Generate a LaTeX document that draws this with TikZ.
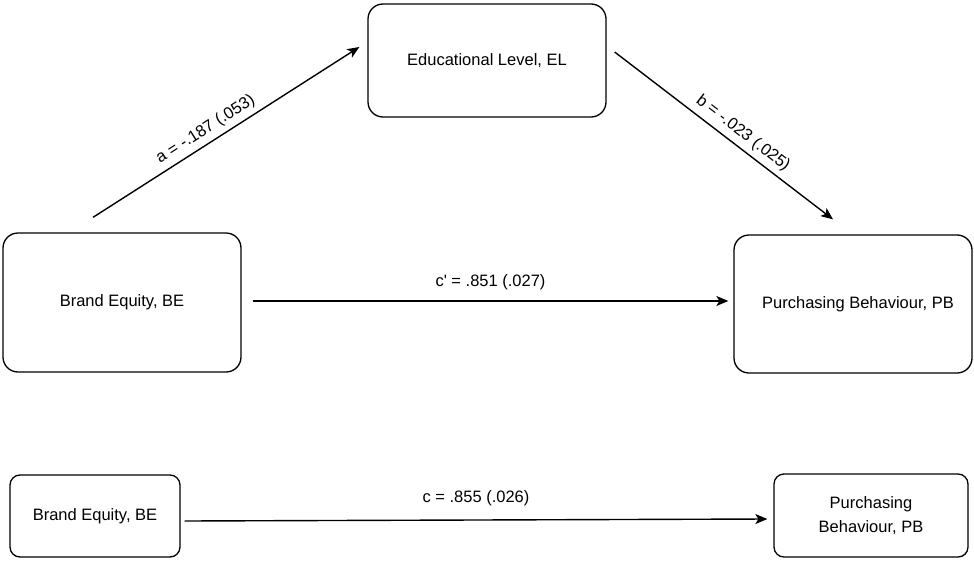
\documentclass[tikz,border=0pt]{standalone}
\usepackage{fontspec}
\setmainfont{Liberation Sans}
\usetikzlibrary{arrows.meta}

\begin{document}
\begin{tikzpicture}[x=1pt, y=-1pt,
  font=\fontsize{16.5}{24}\selectfont,
  box/.style={draw, line width=1.3pt, rounded corners=15pt, align=center},
  smallbox/.style={draw, line width=1.3pt, rounded corners=10pt, align=center},
  path/.style={line width=1.4pt, -{Stealth[length=12pt, width=10pt, inset=3pt]}},
  coef/.style={font=\fontsize{16.5}{20}\selectfont, inner sep=2pt}]
\useasboundingbox (0,0) rectangle (974,562);

% mediation model
\node[box, minimum width=238pt, minimum height=113pt] (el) at (487,60.5) {Educational Level, EL};
\node[box, minimum width=238pt, minimum height=139pt] (be) at (122,302.5) {Brand Equity, BE};
\node[box, minimum width=238pt, minimum height=138pt] (pb) at (853,304) {\hspace{10pt}Purchasing Behaviour, PB};

\draw[path] ([shift={(-29,-15)}]be.north) -- ([shift={(-8,-13.5)}]el.west)
  node[coef, pos=0.45, sloped, above=3pt]{a = -.187 (.053)};
\draw[path] ([shift={(8,-8.5)}]el.east) -- ([shift={(-20,-15)}]pb.north)
  node[coef, pos=0.55, sloped, above=3pt]{b = -.023 (.025)};
\draw[path] ([shift={(11,-1.5)}]be.east) -- ([shift={(-5,-3)}]pb.west)
  node[coef, midway, above=8pt]{c\textquotesingle{} = .851 (.027)};

% total effect
\node[smallbox, minimum width=170pt, minimum height=82pt] (be2) at (95,516) {Brand Equity, BE};
\node[smallbox, minimum width=194pt, minimum height=83pt] (pb2) at (871,515.5) {Purchasing\\Behaviour, PB};

\draw[path] ([shift={(4,5)}]be2.east) -- ([shift={(-6,3.5)}]pb2.west)
  node[coef, midway, above=11pt]{c = .855 (.026)};
\end{tikzpicture}
\end{document}
